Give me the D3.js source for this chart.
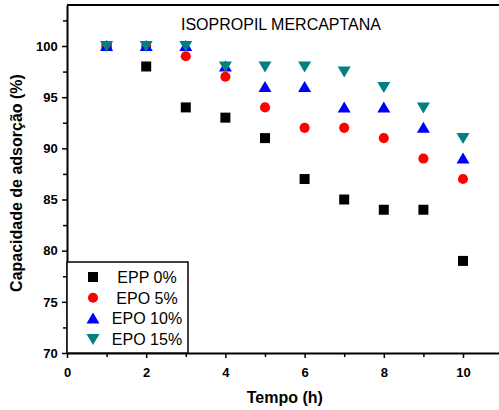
<!DOCTYPE html>
<html>
<head>
<meta charset="utf-8">
<script src="https://cdn.jsdelivr.net/npm/d3@7"></script>
<style>
  body { margin: 0; background: #fff; }
  svg { display: block; font-family: "Liberation Sans", Arial, sans-serif; }
</style>
</head>
<body>
<svg id="chart" width="499" height="410"></svg>
<script>
// data
const tempo = [1, 2, 3, 4, 5, 6, 7, 8, 9, 10];
const epp0 = [100, 98, 94, 93, 91, 87, 85, 84, 84, 79];
const epo5 = [100, 100, 99, 97, 94, 92, 92, 91, 89, 87];
const epo10 = [100, 100, 100, 98, 96, 96, 94, 94, 92, 89];
const epo15 = [100, 100, 100, 98, 98, 98, 97.5, 96, 94, 91];
const seriesNames = ["EPP 0%", "EPO 5%", "EPO 10%", "EPO 15%"];
const xTicks = [0, 2, 4, 6, 8, 10];
const yTicks = [70, 75, 80, 85, 90, 95, 100];

const series = [
  { name: seriesNames[0], values: epp0, color: "#000000", shape: "square" },
  { name: seriesNames[1], values: epo5, color: "#ff0000", shape: "circle" },
  { name: seriesNames[2], values: epo10, color: "#0000ff", shape: "up" },
  { name: seriesNames[3], values: epo15, color: "#008080", shape: "down" }
];

const svg = d3.select("#chart");
const plotLeft = 67, plotBottom = 353;

const x = d3.scaleLinear().domain([0, 11]).range([plotLeft, plotLeft + 11 * 39.6]);
const y = d3.scaleLinear().domain([70, 104]).range([plotBottom, plotBottom - 34 * 10.233]);

// marker path for each shape, centred on 0,0
function marker(shape) {
  if (shape === "square") return "M-5,-5H5V5H-5Z";
  if (shape === "circle") return d3.symbol(d3.symbolCircle, 80)();
  if (shape === "up") return "M0,-6L6.5,5H-6.5Z";
  return "M0,6L6.5,-5H-6.5Z";
}

// axes
const xAxis = svg.append("g").attr("transform", `translate(0,${plotBottom})`)
  .call(d3.axisBottom(x).tickValues(xTicks).tickSize(5).tickSizeOuter(0).tickFormat(d3.format("d")));
svg.append("g").attr("transform", `translate(0,${plotBottom})`)
  .call(d3.axisBottom(x).tickValues(d3.range(1, 11, 2)).tickSize(4).tickFormat(""))
  .select(".domain").remove();

const yAxis = svg.append("g").attr("transform", `translate(${plotLeft},0)`)
  .call(d3.axisLeft(y).tickValues(yTicks).tickSize(5).tickSizeOuter(0));
svg.append("g").attr("transform", `translate(${plotLeft},0)`)
  .call(d3.axisLeft(y).tickValues(d3.range(72.5, 104, 5)).tickSize(4).tickFormat(""))
  .select(".domain").remove();

svg.selectAll(".domain").attr("stroke", "#000").attr("stroke-width", 2);
svg.selectAll(".tick line").attr("stroke", "#000").attr("stroke-width", 1.5);
xAxis.selectAll("text").attr("font-size", 13).attr("font-weight", "bold").attr("fill", "#000").attr("dy", "1.2em");
yAxis.selectAll("text").attr("font-size", 13).attr("font-weight", "bold").attr("fill", "#000").attr("dx", "-0.1em");

// top border
svg.append("line")
  .attr("x1", plotLeft).attr("x2", 499)
  .attr("y1", y(104)).attr("y2", y(104))
  .attr("stroke", "#000").attr("stroke-width", 2);

// axis titles
svg.append("text")
  .attr("x", x(5.5)).attr("y", 403)
  .attr("text-anchor", "middle")
  .attr("font-size", 16).attr("font-weight", "bold")
  .text("Tempo (h)");

svg.append("text")
  .attr("transform", "translate(22,183) rotate(-90)")
  .attr("text-anchor", "middle")
  .attr("font-size", 16).attr("font-weight", "bold")
  .text("Capacidade de adsorção (%)");

// title
svg.append("text")
  .attr("x", 281).attr("y", 30)
  .attr("text-anchor", "middle")
  .attr("font-size", 16)
  .text("ISOPROPIL MERCAPTANA");

// points
series.forEach(s => {
  svg.append("g").selectAll("path")
    .data(tempo.map((t, i) => [t, s.values[i]]))
    .join("path")
    .attr("transform", d => `translate(${x(d[0])},${y(d[1])})`)
    .attr("d", marker(s.shape))
    .attr("fill", s.color);
});

// legend
const lg = svg.append("g");
lg.append("rect")
  .attr("x", plotLeft).attr("y", 262)
  .attr("width", 121).attr("height", plotBottom - 262)
  .attr("fill", "#fff").attr("stroke", "#000").attr("stroke-width", 1.5);
series.forEach((s, i) => {
  const cy = 277 + i * 20.7;
  lg.append("path")
    .attr("transform", `translate(93,${cy})`)
    .attr("d", marker(s.shape))
    .attr("fill", s.color);
  lg.append("text")
    .attr("x", 147).attr("y", cy + 6)
    .attr("text-anchor", "middle")
    .attr("font-size", 16)
    .text(s.name);
});
</script>
</body>
</html>
